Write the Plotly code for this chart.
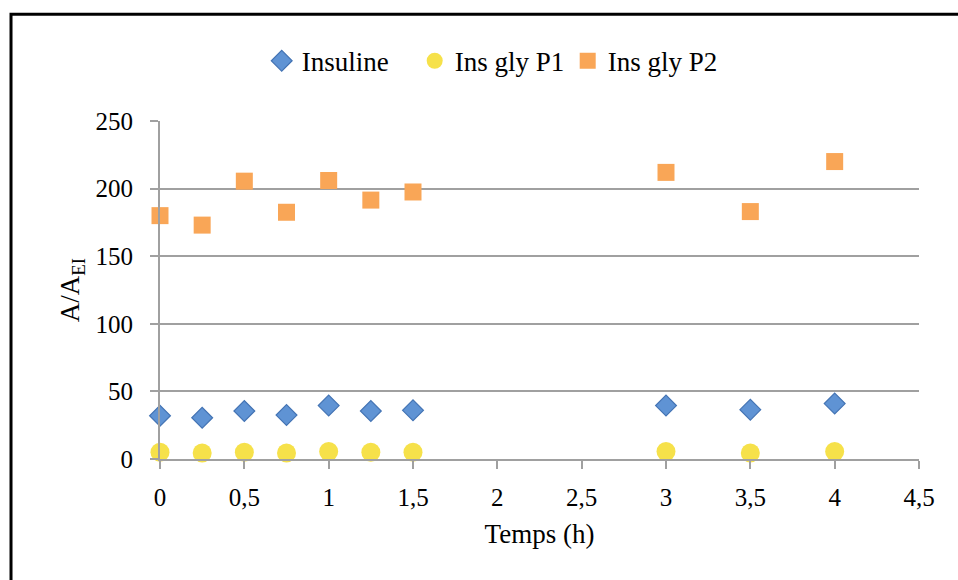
import plotly.graph_objects as go

# Sampling times (h)
temps = [0, 0.25, 0.5, 0.75, 1, 1.25, 1.5, 3, 3.5, 4]

# Area ratios A/A_EI for each species
insuline = [32, 30.5, 35.5, 32.5, 39.5, 35.5, 36, 39.5, 36.5, 41]
ins_gly_p1 = [5, 4.5, 5, 4.5, 5.5, 5, 5, 5.5, 4.5, 5.5]
ins_gly_p2 = [180, 173, 205.5, 182.5, 206, 191.5, 197.5, 212, 183, 220]

x_ticks = [0, 0.5, 1, 1.5, 2, 2.5, 3, 3.5, 4, 4.5]
x_tick_text = ["0", "0,5", "1", "1,5", "2", "2,5", "3", "3,5", "4", "4,5"]
y_ticks = [0, 50, 100, 150, 200, 250]

FONT = "Liberation Serif"
GRID = "#a0a0a0"

fig = go.Figure()
fig.add_trace(go.Scatter(
    x=temps, y=insuline, mode="markers", name="Insuline",
    marker=dict(symbol="diamond", size=16, color="#5f93d4",
                line=dict(color="#4474b4", width=1.2)),
    cliponaxis=False))
fig.add_trace(go.Scatter(
    x=temps, y=ins_gly_p1, mode="markers", name="Ins gly P1",
    marker=dict(symbol="circle", size=19, color="#f6e14a",
                line=dict(color="#f6e14a", width=0)),
    cliponaxis=False))
fig.add_trace(go.Scatter(
    x=temps, y=ins_gly_p2, mode="markers", name="Ins gly P2",
    marker=dict(symbol="square", size=17, color="#f9a657",
                line=dict(color="#f9a657", width=0)),
    cliponaxis=False))

# outer black frame of the chart area
fig.add_shape(type="rect", xref="paper", yref="paper",
              x0=-0.1963, x1=1.2, y0=-0.5, y1=1.3156,
              line=dict(color="black", width=3), layer="below")

fig.update_layout(
    width=958, height=580,
    margin=dict(l=160, r=39, t=121, b=121),
    paper_bgcolor="white", plot_bgcolor="white",
    font=dict(family=FONT, size=26, color="black"),
    showlegend=True,
    legend=dict(orientation="h", x=0.134, xanchor="left", y=1.177,
                yanchor="middle", font=dict(family=FONT, size=27),
                itemsizing="trace", itemwidth=30, tracegroupgap=0,
                entrywidth=108, entrywidthmode="pixels",
                bgcolor="rgba(0,0,0,0)"),
    xaxis=dict(range=[0, 4.5], tickvals=x_ticks, ticktext=x_tick_text,
               showgrid=False, zeroline=False,
               showline=True, linecolor=GRID, linewidth=2,
               ticks="outside", ticklen=8, tickwidth=2, tickcolor=GRID,
               ticklabelstandoff=7,
               tickfont=dict(family=FONT, size=25),
               title=dict(text="Temps (h)", font=dict(family=FONT, size=27),
                          standoff=14)),
    yaxis=dict(range=[0, 250], tickvals=y_ticks,
               showgrid=True, gridcolor=GRID, gridwidth=2,
               zeroline=False,
               showline=True, linecolor=GRID, linewidth=2,
               ticks="outside", ticklen=8, tickwidth=2, tickcolor=GRID,
               ticklabelstandoff=12,
               tickfont=dict(family=FONT, size=25),
               title=dict(text="A/A<sub>EI</sub>", font=dict(family=FONT, size=27),
                          standoff=8)),
)

fig.write_html("out.html")
